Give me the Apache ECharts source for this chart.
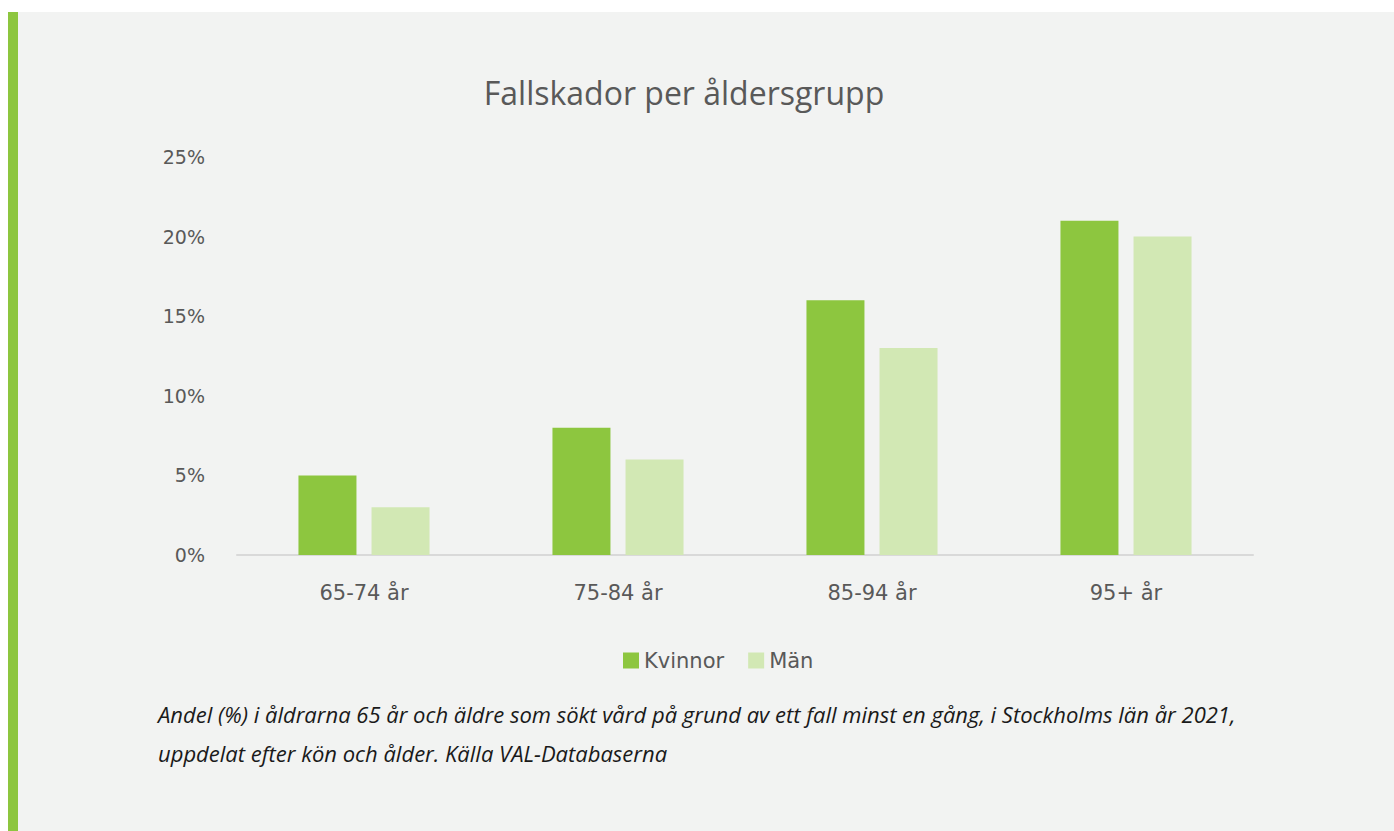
<!DOCTYPE html>
<html>
<head>
<meta charset="utf-8">
<script src="https://cdn.jsdelivr.net/npm/echarts@6/dist/echarts.min.js"></script>
<style>
html,body{margin:0;padding:0;background:#ffffff;}
#chart{width:1394px;height:831px;}
</style>
</head>
<body>
<div id="chart"></div>
<script>
const categories = ['65-74 år', '75-84 år', '85-94 år', '95+ år'];
const kvinnor = [5, 8, 16, 21];
const man = [3, 6, 13, 20];
const seriesNames = ['Kvinnor', 'Män'];
const titleText = 'Fallskador per åldersgrupp';
const captionLines = [
  'Andel (%) i åldrarna 65 år och äldre som sökt vård på grund av ett fall minst en gång, i Stockholms län år 2021,',
  'uppdelat efter kön och ålder. Källa VAL-Databaserna'
];

const chart = echarts.init(document.getElementById('chart'), null, {renderer: 'svg'});
const textColor = '#595959';
const font = '"DejaVu Sans"';
chart.setOption({
  backgroundColor: '#ffffff',
  animation: false,
  graphic: [
    {type: 'rect', z: -10, shape: {x: 8, y: 12, width: 1386, height: 819}, style: {fill: '#f2f3f2'}},
    {type: 'rect', z: -9, shape: {x: 8, y: 12, width: 10, height: 819}, style: {fill: '#8dc63f'}},
    {type: 'text', left: 158, top: 703, style: {text: captionLines[0], font: 'italic 22px "Open Sans"', fill: '#1a1a1a'}},
    {type: 'text', left: 158, top: 742, style: {text: captionLines[1], font: 'italic 22px "Open Sans"', fill: '#1a1a1a'}}
  ],
  title: {
    text: titleText,
    left: 679, top: 71, textAlign: 'center',
    textStyle: {fontFamily: 'Open Sans', fontSize: 32, fontWeight: 'normal', color: textColor}
  },
  legend: {
    data: seriesNames,
    left: 618, top: 645,
    itemWidth: 16, itemHeight: 16, itemGap: 24, icon: 'rect',
    textStyle: {fontFamily: font, fontSize: 21, color: textColor}
  },
  grid: {left: 237, right: 141, top: 157, bottom: 276, containLabel: false},
  xAxis: {
    type: 'category', data: categories,
    axisLine: {lineStyle: {color: '#d9d9d9', width: 2}},
    axisTick: {show: false},
    axisLabel: {fontFamily: font, fontSize: 21, color: textColor, margin: 27}
  },
  yAxis: {
    type: 'value', min: 0, max: 25, interval: 5,
    axisLine: {show: false}, axisTick: {show: false}, splitLine: {show: false},
    axisLabel: {formatter: '{value}%', fontFamily: font, fontSize: 19, color: textColor, margin: 32}
  },
  series: [
    {name: seriesNames[0], type: 'bar', data: kvinnor, barWidth: 58, barGap: '26%', itemStyle: {color: '#8dc63f'}},
    {name: seriesNames[1], type: 'bar', data: man, barWidth: 58, barGap: '26%', itemStyle: {color: '#d2e8b4'}}
  ]
});
</script>
</body>
</html>
